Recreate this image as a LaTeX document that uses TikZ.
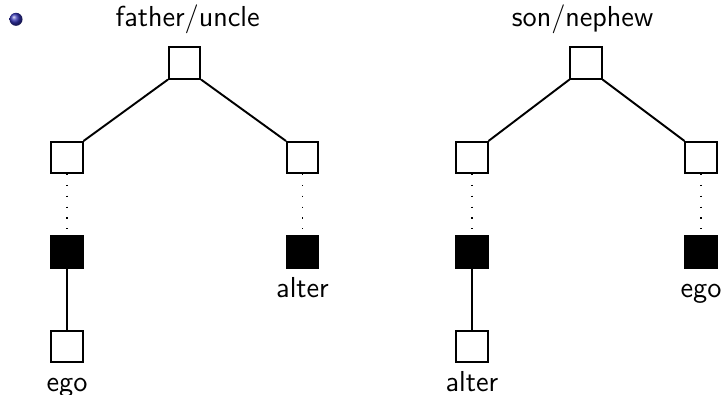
\documentclass[tikz,border=0pt]{standalone}
\usepackage{tikz}
\usetikzlibrary{calc}
\definecolor{structfg}{rgb}{0.2,0.2,0.7}

\begin{document}
\begin{tikzpicture}[thick,
    font=\sffamily\fontsize{12pt}{14pt}\selectfont,
    kin/.style={draw,rectangle,minimum size=0.455cm,inner sep=0pt},
    ego/.style={kin,fill=black},
    tag/.style={anchor=base}]
            \useasboundingbox (0,0) rectangle (10.556,-5.767);
            \shade[ball color=structfg] (0.234,-0.282) circle (0.095);
            % father / uncle
            \node[tag] (t1) at (2.74,-0.394) {father/uncle};
            \node[kin] (a1) at (2.694,-0.92) {};
            \node[kin] (b1) at (0.978,-2.30) {};
            \node[kin] (c1) at (4.417,-2.30) {};
            \node[ego] (d1) at (0.978,-3.68) {};
            \node[ego] (e1) at (4.417,-3.68) {};
            \node[kin] (f1) at (0.978,-5.06) {};
            \node[tag] (alter1) at ([yshift=-0.415cm]e1.south) {alter};
            \node[tag] (ego1) at ([yshift=-0.415cm]f1.south) {ego};
            \draw (a1.south west) to (b1.north east);
            \draw (a1.south east) to (c1.north west);
            \draw[loosely dotted,line width=0.5pt] (b1) to (d1);
            \draw[loosely dotted,line width=0.5pt] (c1) to (e1);
            \draw (d1) to (f1);
            % son / nephew
            \node[tag] (t2) at (8.505,-0.394) {son/nephew};
            \node[kin] (a2) at (8.556,-0.92) {};
            \node[kin] (b2) at (6.891,-2.30) {};
            \node[kin] (c2) at (10.235,-2.30) {};
            \node[ego] (d2) at (6.891,-3.68) {};
            \node[ego] (e2) at (10.235,-3.68) {};
            \node[kin] (f2) at (6.891,-5.06) {};
            \node[tag] (ego2) at ([yshift=-0.415cm]e2.south) {ego};
            \node[tag] (alter2) at ([yshift=-0.415cm]f2.south) {alter};
            \draw (a2.south west) to (b2.north east);
            \draw (a2.south east) to (c2.north west);
            \draw[loosely dotted,line width=0.5pt] (b2) to (d2);
            \draw[loosely dotted,line width=0.5pt] (c2) to (e2);
            \draw (d2) to (f2);
        \end{tikzpicture}
\end{document}
